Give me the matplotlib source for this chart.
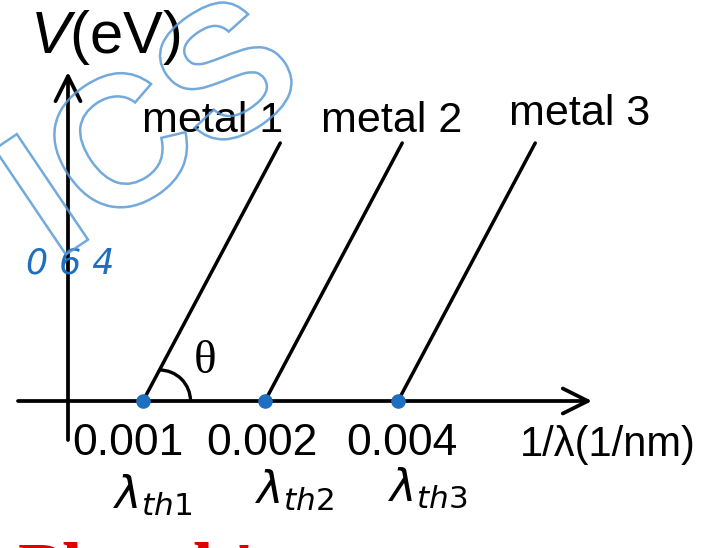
import matplotlib
matplotlib.use("Agg")
import matplotlib.pyplot as plt
from matplotlib.patches import Arc, PathPatch
from matplotlib.textpath import TextPath
from matplotlib.font_manager import FontProperties
from matplotlib.transforms import Affine2D

# schematic data (axis units, origin at the crossing of the axes)
thresholds_x = [0.75, 1.97, 3.30]          # 1/lambda_th positions of the three metals
threshold_labels = ["0.001", "0.002", "0.004"]
metal_names = ["metal 1", "metal 2", "metal 3"]
lambda_th_labels = [r"$\lambda_{th1}$", r"$\lambda_{th2}$", r"$\lambda_{th3}$"]
v_top = 2.58      # stopping potential reached at the top of every line
slope = 1.88      # same slope (h c / e) for all metals

plt.rcParams["font.family"] = ["Liberation Sans", "DejaVu Sans"]
plt.rcParams["mathtext.fontset"] = "custom"
plt.rcParams["mathtext.rm"] = "Liberation Sans"
plt.rcParams["mathtext.it"] = "Liberation Sans:italic"

fig = plt.figure(figsize=(7.27, 5.48), dpi=100)
ax = fig.add_axes([0, 0, 1, 1])
ax.set_xlim(-0.68, 6.59)
ax.set_ylim(-1.47, 4.01)
ax.axis("off")

arrow = dict(arrowstyle="->,head_length=0.9,head_width=0.45", lw=2.7, color="black",
             shrinkA=0, shrinkB=0, mutation_scale=20)
ax.annotate("", xy=(5.24, 0), xytext=(-0.50, 0), arrowprops=arrow)
ax.annotate("", xy=(0, 3.29), xytext=(0, -0.39), arrowprops=arrow)

# the three parallel lines
for x0 in thresholds_x:
    ax.plot([x0, x0 + v_top / slope], [0, v_top], color="black", lw=2.5,
            solid_capstyle="round")

# angle theta on metal 1
x_arc = thresholds_x[0] + 0.31 / slope
ax.add_patch(Arc((x_arc, 0), 0.62, 0.62, theta1=0, theta2=90, lw=2.4, color="black"))
ax.text(1.37, 0.39, "θ", fontsize=34, family="Liberation Serif", ha="center", va="center")

# metal names
name_xy = [(1.45, 2.69), (3.24, 2.69), (5.12, 2.76)]
for name, (x, y) in zip(metal_names, name_xy):
    ax.text(x, y, name, fontsize=31, ha="center", va="baseline")

# tick labels under the axis
label_dx = [-0.15, -0.03, 0.04]
for x0, lab, dx in zip(thresholds_x, threshold_labels, label_dx):
    ax.text(x0 + dx, -0.54, lab, fontsize=32, ha="center", va="baseline")

ax.text(4.52, -0.55, "1/λ(1/nm)", fontsize=30, ha="left", va="baseline")
ax.text(-0.38, 3.48, r"$V$(eV)", fontsize=43, ha="left", va="baseline")

# handwritten annotations
ax.scatter(thresholds_x, [0, 0, 0], s=90, color="#1e6fc0", zorder=5)
ax.text(0.02, 1.37, "0 6 4", fontsize=25, color="#1e6fc0", style="italic",
        ha="center", va="center", family="DejaVu Sans")
lam_xy = [(0.45, -1.08), (1.87, -1.03), (3.20, -1.00)]
for lab, (x, y) in zip(lambda_th_labels, lam_xy):
    ax.text(x, y, lab, fontsize=32, ha="left", va="baseline", family="DejaVu Sans",
            math_fontfamily="dejavusans")

# red heading cut off at the bottom
ax.text(-0.50, -1.92, "Planck's", fontsize=53, color="#e00000", weight="bold",
        family="Liberation Serif", ha="left", va="baseline", clip_on=False)

# watermark: outlined letters, no fill
tp = TextPath((0, 0), "ICS", size=1.85,
              prop=FontProperties(family="Liberation Sans", weight="bold"))
ext = tp.get_extents()
cx, cy = (ext.x0 + ext.x1) / 2, (ext.y0 + ext.y1) / 2
wm_tr = Affine2D().translate(-cx, -cy).rotate_deg(34).translate(0.82, 2.80) + ax.transData
ax.add_patch(PathPatch(tp, transform=wm_tr, facecolor="none", edgecolor="#5b9bd5",
                       lw=1.8, alpha=0.85, zorder=6))

fig.savefig("out.png", dpi=100)
